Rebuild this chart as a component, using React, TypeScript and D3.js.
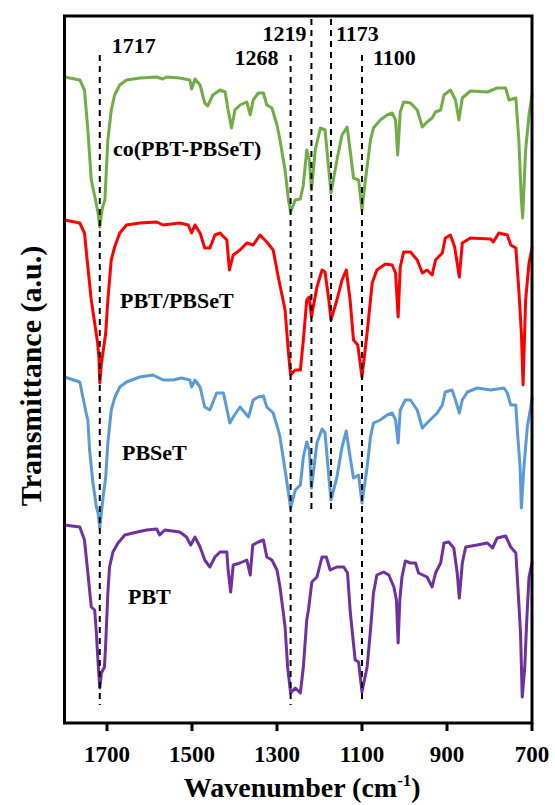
import React from "react";
import * as d3 from "d3";

// FTIR spectra (transmittance, arbitrary units, stacked with offsets)
const wavenumberTicks = [1700, 1500, 1300, 1100, 900, 700];
const seriesNames = ["co(PBT-PBSeT)", "PBT/PBSeT", "PBSeT", "PBT"];
const seriesColors = ["#70AD47", "#FF0000", "#5B9BD5", "#7030A0"];
const bandPositions = [1717, 1268, 1219, 1173, 1100];

const copolymer: [number, number][] = [
  [1800, 64.6], [1764, 64.3], [1753, 63.3], [1745, 59.3], [1737, 54.3], [1727, 52.3], [1721, 51.0],
  [1717, 49.6], [1711, 51.5], [1705, 52.3], [1698, 58.3], [1690, 61.3], [1682, 62.8], [1670, 63.8],
  [1654, 64.3], [1623, 64.5], [1583, 64.6], [1569, 64.4], [1560, 64.6], [1529, 64.5], [1505, 64.3],
  [1501, 63.4], [1493, 64.4], [1481, 63.8], [1470, 62.0], [1463, 61.7], [1451, 62.8], [1434, 63.3],
  [1422, 63.1], [1415, 61.3], [1407, 59.5], [1399, 61.3], [1387, 61.8], [1371, 62.1], [1363, 60.8],
  [1356, 62.3], [1344, 63.0], [1332, 63.0], [1324, 61.8], [1312, 61.5], [1300, 59.8], [1293, 58.3],
  [1281, 55.3], [1273, 52.3], [1268, 51.1], [1257, 52.3], [1245, 52.4], [1238, 53.8], [1230, 57.3],
  [1224, 56.3], [1219, 53.3], [1210, 57.3], [1198, 59.5], [1187, 59.3], [1178, 55.3], [1173, 53.0],
  [1159, 56.3], [1147, 58.8], [1135, 59.6], [1128, 57.3], [1120, 54.5], [1108, 54.3], [1100, 51.3],
  [1092, 54.3], [1080, 58.3], [1073, 59.5], [1057, 60.3], [1041, 60.8], [1029, 61.0], [1021, 60.3],
  [1016, 56.8], [1010, 61.1], [1002, 62.1], [986, 62.0], [970, 61.3], [958, 59.6], [947, 60.1],
  [935, 60.5], [927, 61.1], [915, 61.3], [907, 62.8], [892, 63.3], [880, 62.3], [872, 60.3],
  [864, 62.5], [845, 63.2], [805, 63.1], [782, 63.5], [762, 63.5], [754, 62.3], [738, 62.5],
  [731, 58.3], [725, 52.3], [722, 50.5], [715, 57.3], [707, 60.8], [700, 62.8],
];

const blend: [number, number][] = [
  [1800, 50.3], [1764, 50.0], [1753, 49.0], [1745, 45.6], [1737, 42.3], [1729, 40.0], [1722, 38.0],
  [1719, 36.5], [1717, 34.0], [1713, 36.0], [1708, 37.5], [1703, 39.0], [1698, 42.3], [1690, 46.3],
  [1682, 47.6], [1670, 49.0], [1654, 49.8], [1623, 50.0], [1583, 50.1], [1568, 49.8], [1529, 50.0],
  [1509, 49.8], [1501, 49.0], [1493, 49.8], [1481, 49.0], [1470, 47.5], [1458, 47.5], [1446, 48.8],
  [1434, 49.0], [1418, 48.3], [1412, 45.3], [1403, 46.8], [1387, 47.3], [1371, 48.0], [1356, 47.8],
  [1340, 48.8], [1324, 48.1], [1309, 47.3], [1297, 44.6], [1281, 41.3], [1273, 37.0], [1268, 34.8],
  [1257, 35.3], [1245, 35.3], [1238, 38.3], [1230, 42.3], [1224, 42.6], [1219, 40.6], [1206, 43.6],
  [1194, 45.3], [1187, 45.1], [1178, 42.3], [1173, 40.3], [1159, 42.3], [1147, 44.3], [1137, 45.3],
  [1128, 42.3], [1120, 38.3], [1110, 37.8], [1100, 34.6], [1088, 39.0], [1076, 44.0], [1065, 45.3],
  [1045, 45.9], [1029, 45.8], [1021, 45.0], [1015, 40.6], [1010, 45.6], [1002, 47.1], [986, 47.1],
  [970, 46.3], [958, 45.0], [947, 45.3], [935, 44.8], [927, 46.3], [911, 47.0], [904, 48.5],
  [892, 48.8], [882, 47.6], [871, 44.6], [864, 48.0], [845, 48.5], [797, 48.4], [791, 48.1],
  [778, 49.0], [758, 48.8], [750, 47.8], [738, 47.5], [731, 43.3], [725, 39.0], [721, 33.8],
  [715, 42.3], [707, 46.0], [700, 47.5],
];

const pbset: [number, number][] = [
  [1800, 34.6], [1764, 34.1], [1749, 31.0], [1745, 30.3], [1741, 27.3], [1733, 24.0], [1725, 21.6],
  [1721, 21.0], [1717, 19.5], [1712, 21.5], [1708, 23.0], [1703, 24.6], [1698, 28.0], [1690, 31.3],
  [1682, 32.5], [1670, 33.6], [1654, 34.1], [1623, 34.6], [1592, 34.8], [1568, 34.3], [1544, 34.3],
  [1525, 34.5], [1505, 34.3], [1501, 33.6], [1493, 34.3], [1481, 33.6], [1470, 31.6], [1458, 31.3],
  [1442, 33.0], [1426, 33.0], [1416, 31.0], [1411, 30.0], [1403, 30.6], [1387, 31.6], [1367, 30.6],
  [1356, 32.3], [1344, 32.6], [1332, 32.7], [1324, 31.6], [1309, 31.0], [1297, 29.3], [1293, 28.6],
  [1281, 25.3], [1273, 23.0], [1268, 21.5], [1257, 23.3], [1245, 23.8], [1238, 26.6], [1230, 28.1],
  [1224, 27.3], [1219, 23.5], [1206, 28.0], [1194, 29.4], [1187, 29.0], [1178, 24.6], [1173, 22.3],
  [1159, 24.6], [1147, 27.6], [1137, 29.2], [1128, 26.6], [1120, 24.5], [1108, 24.8], [1100, 22.0],
  [1088, 25.6], [1080, 28.6], [1073, 30.0], [1057, 30.3], [1041, 30.8], [1029, 31.0], [1021, 30.3],
  [1015, 28.0], [1010, 31.3], [998, 32.3], [986, 32.3], [970, 31.3], [958, 29.5], [947, 30.0],
  [935, 30.5], [923, 31.0], [911, 31.8], [904, 33.1], [888, 33.3], [880, 32.3], [871, 31.0],
  [864, 32.3], [852, 33.1], [829, 33.5], [797, 33.3], [766, 33.5], [758, 33.0], [750, 31.8],
  [738, 31.8], [734, 29.0], [728, 25.6], [725, 21.5], [719, 25.6], [711, 29.6], [703, 31.6],
  [700, 32.5],
];

const pbt: [number, number][] = [
  [1800, 19.8], [1764, 19.6], [1753, 18.3], [1745, 15.0], [1737, 11.6], [1729, 11.3], [1725, 9.0],
  [1721, 6.0], [1717, 3.5], [1713, 5.0], [1706, 5.6], [1703, 8.0], [1700, 11.0], [1698, 13.0],
  [1694, 15.6], [1686, 17.1], [1674, 18.0], [1658, 18.8], [1639, 19.0], [1607, 19.3], [1583, 19.4],
  [1576, 18.8], [1564, 19.3], [1529, 19.1], [1513, 18.6], [1503, 17.8], [1493, 18.6], [1481, 17.6],
  [1470, 16.3], [1458, 15.6], [1446, 16.6], [1434, 17.1], [1418, 17.1], [1415, 15.3], [1409, 13.1],
  [1403, 15.8], [1387, 16.0], [1371, 16.3], [1363, 14.8], [1357, 17.8], [1344, 18.1], [1332, 18.3],
  [1324, 16.6], [1312, 16.3], [1300, 15.3], [1293, 13.6], [1285, 11.0], [1281, 9.6], [1275, 5.6],
  [1268, 3.0], [1257, 3.5], [1245, 3.0], [1238, 5.6], [1230, 10.3], [1226, 11.3], [1218, 14.1],
  [1206, 14.6], [1194, 16.6], [1184, 16.6], [1175, 15.3], [1159, 15.6], [1143, 15.6], [1134, 15.0],
  [1128, 11.3], [1124, 9.6], [1116, 6.3], [1108, 6.1], [1100, 3.1], [1088, 5.6], [1080, 9.3],
  [1073, 13.0], [1065, 14.8], [1049, 15.1], [1037, 14.8], [1025, 13.6], [1019, 12.3], [1015, 8.0],
  [1011, 12.3], [1006, 14.6], [998, 16.2], [986, 16.0], [974, 16.0], [967, 15.0], [947, 14.6],
  [935, 13.6], [927, 15.0], [915, 16.0], [907, 18.0], [896, 18.1], [884, 17.5], [876, 15.0],
  [871, 12.5], [864, 16.0], [856, 17.6], [829, 17.8], [805, 18.0], [793, 17.5], [782, 18.5],
  [762, 18.7], [750, 17.6], [738, 17.0], [731, 12.0], [727, 9.0], [723, 2.6], [717, 5.6],
  [712, 10.6], [707, 14.6], [700, 16.0],
];

const spectra = [copolymer, blend, pbset, pbt];

// layout
const W = 555;
const H = 805;
const plot = { left: 64.5, right: 532, top: 16, bottom: 723 };
const FONT = "'Liberation Serif', 'Times New Roman', Times, serif";

// series label placement (pixels)
const nameSpots = [
  { x: 113, y: 156 },
  { x: 120, y: 308 },
  { x: 122, y: 460 },
  { x: 128, y: 604 },
];

// band annotation placement: text anchor, horizontal nudge, baseline, dashed line span
const bandLayout = [
  { anchor: "start", dx: 12, ty: 53, y0: 55, y1: 705 },
  { anchor: "end", dx: -12, ty: 65, y0: 55, y1: 705 },
  { anchor: "end", dx: -5, ty: 41, y0: 19, y1: 512 },
  { anchor: "start", dx: 5, ty: 41, y0: 19, y1: 512 },
  { anchor: "start", dx: 11, ty: 65, y0: 55, y1: 703 },
];

export default function App() {
  const x = d3.scaleLinear().domain([1800, 700]).range([plot.left, plot.right]);
  const y = d3.scaleLinear().domain([0, 70.7]).range([plot.bottom, plot.top]);
  const line = d3
    .line<[number, number]>()
    .x((d) => x(d[0]))
    .y((d) => y(d[1]));

  return (
    <svg
      width={W}
      height={H}
      viewBox={`0 0 ${W} ${H}`}
      style={{ position: "absolute", left: 0, top: 0, background: "#fff" }}
      fontFamily={FONT}
      fontWeight="bold"
    >
      <rect x={0} y={0} width={W} height={H} fill="#fff" />

      {/* spectra */}
      {spectra.map((s, i) => (
        <path
          key={seriesNames[i]}
          d={line(s) ?? ""}
          fill="none"
          stroke={seriesColors[i]}
          strokeWidth={3}
          strokeLinejoin="round"
          strokeLinecap="round"
        />
      ))}

      {/* characteristic bands */}
      {bandPositions.map((b, i) => {
        const L = bandLayout[i];
        const bx = x(b);
        return (
          <g key={b}>
            <line
              x1={bx}
              x2={bx}
              y1={L.y0}
              y2={L.y1}
              stroke="#000"
              strokeWidth={2}
              strokeDasharray="6,5"
            />
            <text x={bx + L.dx} y={L.ty} textAnchor={L.anchor} fontSize={22} fill="#000">
              {b}
            </text>
          </g>
        );
      })}

      {/* series labels */}
      {seriesNames.map((n, i) => (
        <text key={n} x={nameSpots[i].x} y={nameSpots[i].y} fontSize={22} fill="#000">
          {n}
        </text>
      ))}

      {/* frame */}
      <rect
        x={plot.left}
        y={plot.top}
        width={plot.right - plot.left}
        height={plot.bottom - plot.top}
        fill="none"
        stroke="#000"
        strokeWidth={3}
      />

      {/* x axis ticks and labels */}
      {wavenumberTicks.map((t) => (
        <g key={t}>
          <line x1={x(t)} x2={x(t)} y1={plot.bottom} y2={plot.bottom + 8} stroke="#000" strokeWidth={3} />
          <text x={x(t)} y={plot.bottom + 39} textAnchor="middle" fontSize={23} fill="#000">
            {t}
          </text>
        </g>
      ))}

      {/* axis titles */}
      <text x={(plot.left + plot.right) / 2 + 4} y={797} textAnchor="middle" fontSize={28} fill="#000">
        Wavenumber (cm
        <tspan fontSize={17} dy={-11}>-1</tspan>
        <tspan dy={11}>)</tspan>
      </text>
      <text
        transform={`translate(41, 376) rotate(-90)`}
        textAnchor="middle"
        fontSize={30}
        fill="#000"
      >
        Transmittance (a.u.)
      </text>
    </svg>
  );
}
